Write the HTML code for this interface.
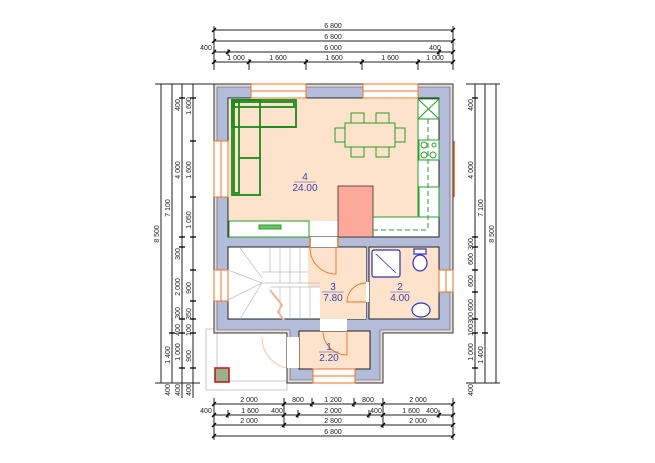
<!DOCTYPE html>
<html><head><meta charset="utf-8"><style>
html,body{margin:0;padding:0;background:#fff;}
svg{display:block;font-family:"Liberation Sans",sans-serif;}
.d{stroke:#222;stroke-width:1;fill:none}
.t{font-size:7px;fill:#222;text-anchor:middle}
.tk{stroke:#000;stroke-width:1.3}
.g{stroke:#2a9d2a;stroke-width:1;fill:none}
.s{stroke:#1a8a1a;stroke-width:1.8;fill:none}
.r{font-size:10px;fill:#4040a8;text-anchor:middle}
</style></head><body>
<svg width="655" height="463" viewBox="0 0 655 463">
<rect x="206" y="329" width="81" height="61" fill="none" stroke="#bbb" stroke-width="0.8"/>
<rect x="217" y="332" width="70" height="49" fill="none" stroke="#bbb" stroke-width="0.8"/>
<rect x="215" y="368" width="14" height="14" fill="#9cb08c" stroke="#c02020" stroke-width="1.6"/>
<path d="M262 337 A31 31 0 0 0 287 368" fill="none" stroke="#f8c8a0" stroke-width="1"/>
<polygon points="214,84 453,84 453,333 383,333 383,383 287,383 287,333 214,333" fill="#e9dedb" stroke="#333" stroke-width="1"/>
<polygon points="217,87 450,87 450,330 380,330 380,380 290,380 290,330 217,330" fill="#b3bcd9" stroke="#555" stroke-width="0.6"/>
<rect x="228" y="98" width="211" height="139" fill="#fff" stroke="#222"/>
<rect x="229" y="99" width="189" height="118" fill="#fde3cb"/>
<rect x="229" y="217" width="109" height="4" fill="#fde3cb"/>
<rect x="338" y="186" width="35" height="51" fill="#fca89a" stroke="#333" stroke-width="0.8"/>
<rect x="228" y="247" width="138" height="72" fill="#fff" stroke="#222"/>
<polygon points="308,248 366,248 366,319 320,319 320,287 308,287" fill="#fde3cb"/>
<rect x="369" y="247" width="70" height="72" fill="#fde3cb" stroke="#222"/>
<rect x="299" y="331" width="71" height="38" fill="#fde3cb" stroke="#222"/>
<rect x="310" y="237" width="28" height="10" fill="#fff"/>
<line x1="310" y1="237" x2="310" y2="247" stroke="#f07020" stroke-width="1.5"/>
<line x1="338" y1="237" x2="338" y2="247" stroke="#f07020" stroke-width="1.5"/>
<rect x="320" y="319" width="27" height="12" fill="#fff"/>
<rect x="287" y="337" width="12" height="31" fill="#fff"/>
<rect x="366" y="282" width="3" height="20" fill="#fff"/>
<path d="M336 248 L336 274 A26 26 0 0 1 310 248" fill="none" stroke="#f07020" stroke-width="0.9"/>
<path d="M347 331 L347 355 A24 24 0 0 1 323 331" fill="none" stroke="#f07020" stroke-width="0.9"/>
<path d="M366 283 A19 19 0 0 0 347 302 L366 302" fill="none" stroke="#f07020" stroke-width="0.9"/>
<g fill="#fff" stroke="#f07020" stroke-width="1">
<rect x="251" y="84" width="55" height="14"/><rect x="363" y="84" width="55" height="14"/>
<rect x="214" y="141" width="14" height="56"/><rect x="214" y="270" width="14" height="31"/>
<rect x="439" y="270" width="14" height="22"/><rect x="313" y="369" width="42" height="14"/>
</g>
<g stroke="#f07020" stroke-width="1">
<line x1="251" y1="91" x2="306" y2="91"/><line x1="363" y1="91" x2="418" y2="91"/>
<line x1="221" y1="141" x2="221" y2="197"/><line x1="221" y1="270" x2="221" y2="301"/>
<line x1="446" y1="270" x2="446" y2="292"/><line x1="313" y1="376" x2="355" y2="376"/>
<line x1="454" y1="141" x2="454" y2="197" stroke="#c0602a" stroke-width="1.5"/>
</g>
<g class="s">
<rect x="232" y="100" width="64" height="27"/><rect x="232" y="100" width="28" height="95"/>
<rect x="234" y="102" width="60" height="5"/><rect x="234" y="102" width="5" height="91"/>
<line x1="260" y1="127" x2="296" y2="127"/><line x1="239" y1="158" x2="260" y2="158"/>
</g>
<g class="g">
<rect x="229" y="221" width="80" height="16"/>
<rect x="259" y="225" width="22" height="4" fill="#6cc06c"/>
<rect x="345" y="123" width="50" height="24"/>
<rect x="351" y="113" width="13" height="10"/><rect x="376" y="113" width="13" height="10"/>
<rect x="351" y="147" width="13" height="10"/><rect x="376" y="147" width="13" height="10"/>
<rect x="335" y="128" width="10" height="14"/><rect x="395" y="128" width="10" height="14"/>
<rect x="418" y="99" width="21" height="20"/><line x1="418" y1="99" x2="439" y2="119"/><line x1="439" y1="99" x2="418" y2="119"/>
<rect x="419" y="140" width="20" height="20"/>
<circle cx="424" cy="145" r="3"/><circle cx="424" cy="155" r="3"/><circle cx="433" cy="155" r="3"/><circle cx="434" cy="145" r="2"/>
<rect x="419" y="187" width="20" height="30"/>
<line x1="418" y1="119" x2="418" y2="217"/>
<line x1="373" y1="217" x2="418" y2="217"/>
<line x1="428" y1="119" x2="428" y2="230" stroke-dasharray="5,3"/>
<line x1="373" y1="230" x2="428" y2="230" stroke-dasharray="5,3"/>
</g>
<g stroke="#bbb" stroke-width="0.7" fill="none">
<line x1="262" y1="272" x2="308" y2="272"/><line x1="262" y1="283" x2="320" y2="283"/>
<line x1="270" y1="287" x2="320" y2="287"/>
<line x1="270" y1="248" x2="270" y2="272"/><line x1="280" y1="248" x2="280" y2="283"/><line x1="290" y1="248" x2="290" y2="283"/><line x1="300" y1="248" x2="300" y2="283"/>
<line x1="280" y1="287" x2="280" y2="319"/><line x1="290" y1="287" x2="290" y2="319"/><line x1="300" y1="287" x2="300" y2="319"/><line x1="310" y1="287" x2="310" y2="319"/>
<line x1="228" y1="270" x2="262" y2="283"/><line x1="240" y1="248" x2="262" y2="278"/><line x1="262" y1="283" x2="240" y2="319"/><line x1="262" y1="283" x2="228" y2="300"/>
</g>
<path d="M270 290 L282 305 L278 312 L284 320" fill="none" stroke="#e8b898" stroke-width="2"/>
<g stroke="#3030c0" stroke-width="1.2" fill="#fff">
<rect x="372" y="250" width="28" height="27" rx="2"/>
<line x1="376" y1="254" x2="396" y2="273" stroke-width="0.8"/>
<ellipse cx="420" cy="263" rx="7" ry="8"/><rect x="414" y="249" width="12" height="5"/>
<ellipse cx="421" cy="310" rx="9" ry="7"/>
</g>
<text class="r" x="305" y="180">4</text><line x1="294" y1="182" x2="316" y2="182" stroke="#4040a8" stroke-width="0.6"/><text class="r" x="305" y="191">24.00</text>
<text class="r" x="333" y="290">3</text><line x1="322" y1="292" x2="344" y2="292" stroke="#4040a8" stroke-width="0.6"/><text class="r" x="333" y="301">7.80</text>
<text class="r" x="400" y="290">2</text><line x1="390" y1="292" x2="410" y2="292" stroke="#4040a8" stroke-width="0.6"/><text class="r" x="400" y="301">4.00</text>
<text class="r" x="329" y="350">1</text><line x1="319" y1="352" x2="339" y2="352" stroke="#4040a8" stroke-width="0.6"/><text class="r" x="329" y="361">2.20</text>
<g class="d">
<line x1="214" y1="30" x2="453" y2="30"/><line x1="214" y1="41" x2="453" y2="41"/><line x1="214" y1="52" x2="453" y2="52"/><line x1="214" y1="62" x2="453" y2="62"/>
<line x1="214" y1="26" x2="214" y2="70"/><line x1="453" y1="26" x2="453" y2="70"/>
<line x1="228" y1="49" x2="228" y2="56"/><line x1="439" y1="49" x2="439" y2="56"/>
<line x1="249" y1="59" x2="249" y2="70"/><line x1="306" y1="59" x2="306" y2="70"/><line x1="362" y1="59" x2="362" y2="70"/><line x1="418" y1="59" x2="418" y2="70"/>
</g>
<g class="tk">
<line x1="212" y1="32" x2="216" y2="28"/><line x1="451" y1="32" x2="455" y2="28"/>
<line x1="212" y1="43" x2="216" y2="39"/><line x1="451" y1="43" x2="455" y2="39"/>
<line x1="212" y1="54" x2="216" y2="50"/><line x1="451" y1="54" x2="455" y2="50"/><line x1="226" y1="54" x2="230" y2="50"/><line x1="437" y1="54" x2="441" y2="50"/>
<line x1="212" y1="64" x2="216" y2="60"/><line x1="247" y1="64" x2="251" y2="60"/><line x1="304" y1="64" x2="308" y2="60"/><line x1="360" y1="64" x2="364" y2="60"/><line x1="416" y1="64" x2="420" y2="60"/><line x1="451" y1="64" x2="455" y2="60"/>
</g>
<g class="t">
<text x="333" y="28">6 800</text><text x="333" y="39">6 800</text><text x="333" y="50">6 000</text><text x="206" y="50">400</text><text x="435" y="50">400</text>
<text x="236" y="60">1 000</text><text x="278" y="60">1 600</text><text x="334" y="60">1 600</text><text x="390" y="60">1 600</text><text x="435" y="60">1 000</text>
</g>
<g class="d">
<line x1="214" y1="404" x2="453" y2="404"/><line x1="214" y1="415" x2="453" y2="415"/><line x1="214" y1="425" x2="453" y2="425"/><line x1="214" y1="436" x2="453" y2="436"/>
<line x1="214" y1="398" x2="214" y2="440"/><line x1="453" y1="398" x2="453" y2="440"/>
<line x1="284" y1="398" x2="284" y2="428"/><line x1="383" y1="398" x2="383" y2="428"/>
<line x1="312" y1="398" x2="312" y2="407"/><line x1="354" y1="398" x2="354" y2="407"/>
<line x1="228" y1="410" x2="228" y2="418"/><line x1="298" y1="410" x2="298" y2="418"/><line x1="369" y1="410" x2="369" y2="418"/><line x1="439" y1="410" x2="439" y2="418"/>
</g>
<g class="tk">
<line x1="212" y1="406" x2="216" y2="402"/><line x1="282" y1="406" x2="286" y2="402"/><line x1="310" y1="406" x2="314" y2="402"/><line x1="352" y1="406" x2="356" y2="402"/><line x1="381" y1="406" x2="385" y2="402"/><line x1="451" y1="406" x2="455" y2="402"/>
<line x1="212" y1="417" x2="216" y2="413"/><line x1="226" y1="417" x2="230" y2="413"/><line x1="282" y1="417" x2="286" y2="413"/><line x1="296" y1="417" x2="300" y2="413"/><line x1="367" y1="417" x2="371" y2="413"/><line x1="381" y1="417" x2="385" y2="413"/><line x1="437" y1="417" x2="441" y2="413"/><line x1="451" y1="417" x2="455" y2="413"/>
<line x1="212" y1="427" x2="216" y2="423"/><line x1="282" y1="427" x2="286" y2="423"/><line x1="381" y1="427" x2="385" y2="423"/><line x1="451" y1="427" x2="455" y2="423"/>
<line x1="212" y1="438" x2="216" y2="434"/><line x1="451" y1="438" x2="455" y2="434"/>
</g>
<g class="t">
<text x="249" y="402">2 000</text><text x="298" y="402">800</text><text x="333" y="402">1 200</text><text x="368" y="402">800</text><text x="418" y="402">2 000</text>
<text x="206" y="413">400</text><text x="250" y="413">1 600</text><text x="277" y="413">400</text><text x="333" y="413">2 000</text><text x="376" y="413">400</text><text x="411" y="413">1 600</text><text x="432" y="413">400</text>
<text x="249" y="423">2 000</text><text x="333" y="423">2 800</text><text x="418" y="423">2 000</text><text x="333" y="434">6 800</text>
</g>
<g class="d">
<line x1="161" y1="84" x2="161" y2="383"/><line x1="172" y1="84" x2="172" y2="383"/><line x1="182" y1="84" x2="182" y2="398"/><line x1="193" y1="84" x2="193" y2="398"/>
<line x1="155" y1="84" x2="214" y2="84"/><line x1="155" y1="383" x2="200" y2="383"/>
</g>
<g class="tk">
<line x1="190" y1="98" x2="196" y2="98"/><line x1="190" y1="141" x2="196" y2="141"/><line x1="190" y1="197" x2="196" y2="197"/><line x1="190" y1="237" x2="196" y2="237"/><line x1="190" y1="270" x2="196" y2="270"/><line x1="190" y1="301" x2="196" y2="301"/><line x1="190" y1="319" x2="196" y2="319"/><line x1="190" y1="333" x2="196" y2="333"/><line x1="190" y1="368" x2="196" y2="368"/>
<line x1="179" y1="98" x2="185" y2="98"/><line x1="179" y1="237" x2="185" y2="237"/><line x1="179" y1="247" x2="185" y2="247"/><line x1="179" y1="319" x2="185" y2="319"/><line x1="179" y1="333" x2="185" y2="333"/><line x1="179" y1="368" x2="185" y2="368"/>
<line x1="169" y1="333" x2="175" y2="333"/>
</g>
<g class="t">
<text transform="translate(191,106) rotate(-90)">1 600</text><text transform="translate(191,170) rotate(-90)">1 600</text><text transform="translate(191,220) rotate(-90)">1 050</text><text transform="translate(191,288) rotate(-90)">900</text><text transform="translate(191,314) rotate(-90)">350</text><text transform="translate(191,330) rotate(-90)">100</text><text transform="translate(191,356) rotate(-90)">900</text><text transform="translate(191,390) rotate(-90)">400</text>
<text transform="translate(180,105) rotate(-90)">400</text><text transform="translate(180,170) rotate(-90)">4 000</text><text transform="translate(180,254) rotate(-90)">300</text><text transform="translate(180,287) rotate(-90)">2 000</text><text transform="translate(180,313) rotate(-90)">300</text><text transform="translate(180,330) rotate(-90)">400</text><text transform="translate(180,352) rotate(-90)">1 000</text><text transform="translate(180,390) rotate(-90)">400</text>
<text transform="translate(170,208) rotate(-90)">7 100</text><text transform="translate(170,355) rotate(-90)">1 400</text><text transform="translate(170,390) rotate(-90)">400</text>
<text transform="translate(159,234) rotate(-90)">8 500</text>
</g>
<g class="d">
<line x1="475" y1="84" x2="475" y2="383"/><line x1="485" y1="84" x2="485" y2="383"/><line x1="496" y1="84" x2="496" y2="383"/>
<line x1="466" y1="84" x2="500" y2="84"/><line x1="466" y1="383" x2="500" y2="383"/>
</g>
<g class="tk">
<line x1="472" y1="98" x2="478" y2="98"/><line x1="472" y1="237" x2="478" y2="237"/><line x1="472" y1="247" x2="478" y2="247"/><line x1="472" y1="270" x2="478" y2="270"/><line x1="472" y1="292" x2="478" y2="292"/><line x1="472" y1="319" x2="478" y2="319"/><line x1="472" y1="333" x2="478" y2="333"/><line x1="472" y1="368" x2="478" y2="368"/><line x1="482" y1="333" x2="488" y2="333"/>
</g>
<g class="t">
<text transform="translate(473,105) rotate(-90)">400</text><text transform="translate(473,170) rotate(-90)">4 000</text><text transform="translate(473,244) rotate(-90)">300</text><text transform="translate(473,259) rotate(-90)">600</text><text transform="translate(473,281) rotate(-90)">600</text><text transform="translate(473,305) rotate(-90)">600</text><text transform="translate(473,318) rotate(-90)">300</text><text transform="translate(473,330) rotate(-90)">100</text><text transform="translate(473,352) rotate(-90)">1 000</text><text transform="translate(473,390) rotate(-90)">400</text>
<text transform="translate(483,208) rotate(-90)">7 100</text><text transform="translate(483,355) rotate(-90)">1 400</text>
<text transform="translate(494,234) rotate(-90)">8 500</text>
</g>
</svg>
</body></html>
